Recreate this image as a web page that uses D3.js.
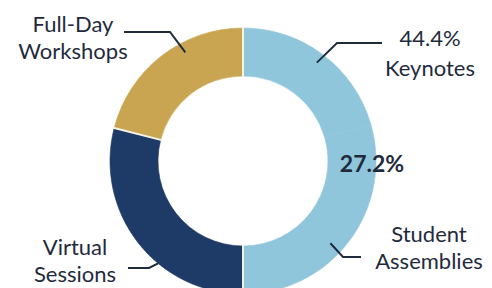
<!DOCTYPE html>
<html><head><meta charset="utf-8">
<script src="https://cdn.jsdelivr.net/npm/d3@7/dist/d3.min.js"></script>
<style>
html,body{margin:0;padding:0;background:#fff;}
svg{display:block;}
text{font-family:Lato,"Open Sans",sans-serif;fill:#1f2b3d;}
</style></head>
<body>
<script>
// Data (shares of the ring as drawn)
const categories = ["Keynotes", "Student Assemblies", "Virtual Sessions", "Full-Day Workshops"];
const values = [20.5, 29.5, 29.0, 21.0];
const colors = ["#90c6dc", "#90c6dc", "#1e3a66", "#c9a552"];
// Labels as printed
const labelLines = [["44.4%", "Keynotes"], ["Student", "Assemblies"], ["Virtual", "Sessions"], ["Full-Day", "Workshops"]];
const innerPct = "27.2%";

const W = 492, H = 288;
const cx = 243, cy = 161, R = 133, r = 85;

const svg = d3.select("body").append("svg").attr("width", W).attr("height", H);
const g = svg.append("g").attr("transform", `translate(${cx},${cy})`);

const pie = d3.pie().sort(null).value(d => d.v);
const data = categories.map((c, i) => ({c, v: values[i], col: colors[i], i}));
const arcs = pie(data);
const arc = d3.arc().innerRadius(r).outerRadius(R);

g.selectAll("path.slice").data(arcs).enter().append("path")
  .attr("class", "slice")
  .attr("d", arc)
  .attr("fill", d => d.data.col)
  .attr("stroke", d => d.data.col)
  .attr("stroke-width", 0.6);

// white separators where colour changes
arcs.forEach((a, i) => {
  const prev = arcs[(i - 1 + arcs.length) % arcs.length];
  if (prev.data.col !== a.data.col) {
    const ang = a.startAngle;
    g.append("line")
      .attr("x1", Math.sin(ang) * (r - 1)).attr("y1", -Math.cos(ang) * (r - 1))
      .attr("x2", Math.sin(ang) * (R + 1)).attr("y2", -Math.cos(ang) * (R + 1))
      .attr("stroke", "#f4f1e6").attr("stroke-width", 2);
  }
});

// leader lines & labels (layout config)
const layout = [
  {frac: 0.5, rad: 123, bend: [337, 43], end: [382, 43], tx: 430, ty: [46, 76]},
  {frac: 0.56, rad: 120, bend: [343, 257], end: [361, 257], tx: 429, ty: [242, 269]},
  {frac: 0.38, rad: 133, bend: [149, 268], end: [128, 268], tx: 75, ty: [255, 282]},
  {frac: 0.63, rad: 123, bend: [170, 32], end: [124, 32], tx: 73, ty: [32, 59]}
];

arcs.forEach((a, i) => {
  const L = layout[i];
  const ang = a.startAngle + (a.endAngle - a.startAngle) * L.frac;
  const px = cx + Math.sin(ang) * L.rad, py = cy - Math.cos(ang) * L.rad;
  svg.append("path")
    .attr("d", d3.line()([[px, py], L.bend, L.end]))
    .attr("fill", "none").attr("stroke", "#1f2b3d").attr("stroke-width", 2);
  labelLines[i].forEach((t, k) => {
    svg.append("text").attr("x", L.tx).attr("y", L.ty[k])
      .attr("text-anchor", "middle").attr("font-size", 22)
      .text(t);
  });
});

svg.append("text").attr("x", 372).attr("y", 172)
  .attr("text-anchor", "middle").attr("font-size", 23).attr("font-weight", 700)
  .text(innerPct);
</script>
</body></html>
